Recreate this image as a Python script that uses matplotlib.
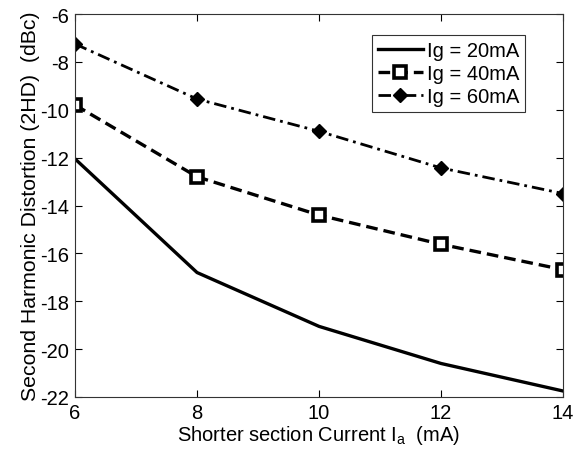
import matplotlib
matplotlib.use("Agg")
import matplotlib.pyplot as plt

plt.rcParams['font.family'] = ['Liberation Sans', 'DejaVu Sans']
plt.rcParams['axes.unicode_minus'] = False

current_a = [6, 8, 10, 12, 14]
hd2_ig20 = [-12.05, -16.8, -19.05, -20.6, -21.75]
hd2_ig40 = [-9.8, -12.8, -14.4, -15.62, -16.68]
hd2_ig60 = [-7.25, -9.55, -10.9, -12.43, -13.5]
series_labels = ['Ig = 20mA', 'Ig = 40mA', 'Ig = 60mA']

fig = plt.figure(figsize=(5.74, 4.56), dpi=100)
ax = fig.add_axes([0.1307, 0.1272, 0.8503, 0.8398])

ax.plot(current_a, hd2_ig20, color='black', lw=2.4, ls='-', label=series_labels[0])
ax.plot(current_a, hd2_ig40, color='black', lw=2.4, ls=(0, (3.5, 1.8)),
        marker='s', ms=8, mfc='white', mec='black', mew=2.6, label=series_labels[1])
ax.plot(current_a, hd2_ig60, color='black', lw=2.0, ls=(0, (4.5, 1.8, 1, 1.8)),
        marker='D', ms=7.5, mfc='black', mec='black', label=series_labels[2])

ax.set_xlim(6, 14)
ax.set_ylim(-22, -6)
ax.set_xticks([6, 8, 10, 12, 14])
ax.set_yticks(range(-22, -5, 2))
ax.tick_params(direction='in', top=True, right=True, labelsize=14.5, length=5, pad=4)
for s in ax.spines.values():
    s.set_linewidth(0.8)
    s.set_color('#333333')

ax.set_xlabel('Shorter section Current I$_\\mathregular{a}$  (mA)', fontsize=14.5, labelpad=1)
ax.set_ylabel('Second Harmonic Distortion (2HD)  (dBc)', fontsize=15.3, labelpad=0)

leg = ax.legend(loc='upper right', bbox_to_anchor=(0.922, 0.945), fontsize=14.5,
                frameon=True, fancybox=False, edgecolor='black', handlelength=2.2,
                borderpad=0.3, labelspacing=0.2, handletextpad=0.2, borderaxespad=0)
leg.get_frame().set_linewidth(0.8)

fig.savefig('out.png', dpi=100)
